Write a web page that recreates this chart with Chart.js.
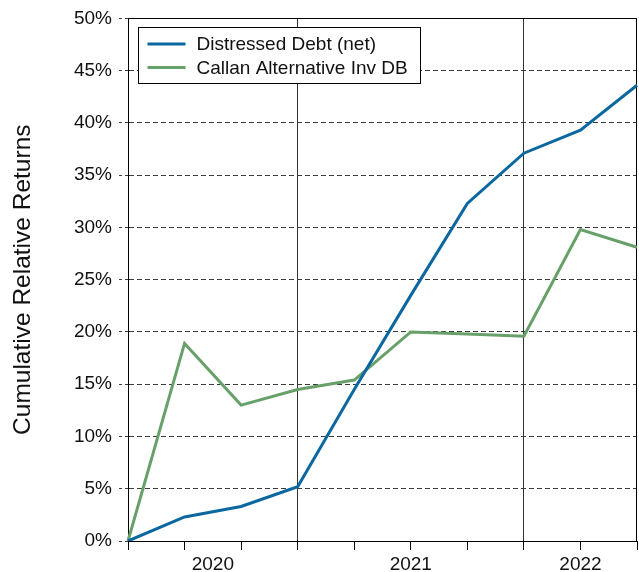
<!DOCTYPE html>
<html>
<head>
<meta charset="utf-8">
<script src="https://cdn.jsdelivr.net/npm/chart.js@4/dist/chart.umd.min.js"></script>
<style>
  html, body { margin: 0; padding: 0; background: #fff; }
  #wrap { width: 639px; height: 572px; }
</style>
</head>
<body>
<div id="wrap"><canvas id="chart" width="639" height="572"></canvas></div>
<script>
// quarter-end points, first one is the start of the period
const quarters = ['Q4 2019', 'Q1 2020', 'Q2 2020', 'Q3 2020', 'Q4 2020', 'Q1 2021', 'Q2 2021', 'Q3 2021', 'Q4 2021', 'Q1 2022'];
const distressedDebt = [0, 2.3, 3.3, 5.2, 14.5, 23.5, 32.3, 37.1, 39.3, 43.6];
const callanAltInv = [0, 18.9, 13.0, 14.5, 15.4, 20.0, 19.8, 19.6, 29.8, 28.1];
const seriesNames = ['Distressed Debt (net)', 'Callan Alternative Inv DB'];
const seriesColors = ['#0a67a0', '#67a068'];
// year labels and the quarter indices that bound each year
const yearLabels = ['2020', '2021', '2022'];
const yearBounds = [0, 3, 7, 9];
const yTicks = [0, 5, 10, 15, 20, 25, 30, 35, 40, 45, 50];

const FONT = '"Liberation Sans", Arial, sans-serif';
const yearCenters = yearLabels.map((_, i) => (yearBounds[i] + yearBounds[i + 1]) / 2);
const innerBounds = yearBounds.slice(1, -1);

// frame round the plot area
const framePlugin = {
    id: 'frame',
    beforeDatasetsDraw(chart) {
        const { ctx, chartArea: a } = chart;
        ctx.save();
        ctx.strokeStyle = '#000';
        ctx.lineWidth = 1;
        ctx.strokeRect(Math.round(a.left) + 0.5, Math.round(a.top) + 0.5,
            Math.round(a.right - a.left) - 1, Math.round(a.bottom - a.top));
        ctx.restore();
    }
};

// boxed legend in the top left corner
const boxLegend = {
    id: 'boxLegend',
    afterDraw(chart) {
        const { ctx, chartArea: a } = chart;
        const x = Math.round(a.left) + 10.5;
        const y = Math.round(a.top) + 9.5;
        ctx.save();
        ctx.fillStyle = '#fff';
        ctx.fillRect(x, y, 282, 56);
        ctx.strokeStyle = '#000';
        ctx.lineWidth = 1;
        ctx.strokeRect(x, y, 282, 56);
        ctx.font = '19px ' + FONT;
        ctx.textBaseline = 'middle';
        chart.data.datasets.forEach((ds, i) => {
            const ly = y + 16.5 + i * 23.5;
            ctx.strokeStyle = ds.borderColor;
            ctx.lineWidth = 3;
            ctx.beginPath();
            ctx.moveTo(x + 9, ly);
            ctx.lineTo(x + 47, ly);
            ctx.stroke();
            ctx.fillStyle = '#111';
            ctx.fillText(ds.label, x + 58, ly + 1);
        });
        ctx.restore();
    }
};

new Chart(document.getElementById('chart'), {
    type: 'line',
    data: {
        labels: quarters,
        datasets: [distressedDebt, callanAltInv].map((vals, i) => ({
            label: seriesNames[i],
            data: vals,
            borderColor: seriesColors[i],
            backgroundColor: seriesColors[i],
            borderWidth: 3,
            tension: 0,
            pointRadius: 0,
            fill: false
        }))
    },
    options: {
        responsive: false,
        animation: false,
        layout: { padding: { left: 0, right: 2, top: 17, bottom: 0 } },
        plugins: { legend: { display: false }, tooltip: { enabled: false } },
        scales: {
            x: {
                type: 'category',
                position: 'bottom',
                weight: 0,
                offset: false,
                grid: {
                    offset: false,
                    drawTicks: true,
                    tickLength: 9,
                    tickColor: '#000',
                    color: (c) => innerBounds.includes(c.index) ? '#333' : 'rgba(0,0,0,0)',
                    lineWidth: 1
                },
                border: { display: true, color: '#000' },
                ticks: { display: false },
                afterFit: (s) => { s.height = 9; }
            },
            years: {
                type: 'linear',
                position: 'bottom',
                weight: 1,
                min: 0,
                max: quarters.length - 1,
                grid: { display: false, drawTicks: false },
                border: { display: false },
                afterBuildTicks: (s) => { s.ticks = yearCenters.map(v => ({ value: v })); },
                ticks: {
                    autoSkip: false,
                    maxRotation: 0,
                    padding: 3,
                    color: '#111',
                    font: { family: FONT, size: 19 },
                    callback: (v, i) => yearLabels[i]
                },
                afterFit: (s) => { s.height = 22; }
            },
            y: {
                min: 0,
                max: 50,
                afterBuildTicks: (s) => { s.ticks = yTicks.map(v => ({ value: v })); },
                grid: {
                    color: '#3a3a3a',
                    lineWidth: 1,
                    drawTicks: true,
                    tickLength: 9,
                    tickBorderDash: [3, 3],
                    tickBorderDashOffset: 0,
                    tickColor: '#3a3a3a'
                },
                border: { display: true, color: '#000', dash: [5, 3] },
                ticks: {
                    padding: 7,
                    color: '#111',
                    font: { family: FONT, size: 19 },
                    callback: (v) => v + '%'
                },
                title: {
                    display: true,
                    text: 'Cumulative Relative Returns',
                    color: '#111',
                    font: { family: FONT, size: 24.5 },
                    padding: { top: 9, bottom: 0 }
                },
                afterFit: (s) => { s.width = 128; }
            }
        }
    },
    plugins: [framePlugin, boxLegend]
});
</script>
</body>
</html>
